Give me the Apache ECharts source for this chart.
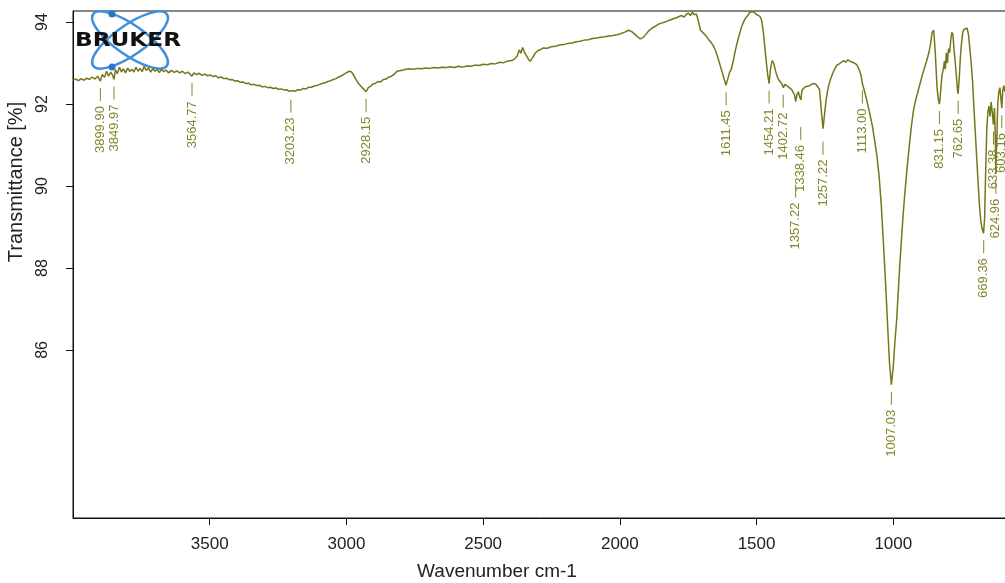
<!DOCTYPE html>
<html>
<head>
<meta charset="utf-8">
<script src="https://cdn.jsdelivr.net/npm/echarts@6/dist/echarts.min.js"></script>
<style>
html,body{margin:0;padding:0;background:#fff;}
#chart{width:1005px;height:583px;}
</style>
</head>
<body>
<div id="chart"></div>
<script>
// ---------------- DATA ----------------
var wavenumbers = [
4000,3990,3980,3970,3960,3950,3940,3930,3920,3910,3900,3893,3885,3877,3870,3862,3855,3850,3845,3838,
3830,3823,3816,3808,3800,3792,3785,3777,3770,3762,3755,3747,3740,3732,3724,3716,3708,3700,3692,3684,
3676,3668,3660,3650,3640,3630,3620,3610,3600,3590,3580,3572,3565,3558,3548,3538,3528,3518,3508,3498,
3488,3478,3468,3458,3448,3438,3428,3418,3408,3398,3388,3378,3368,3358,3348,3338,3328,3318,3308,3298,
3288,3278,3268,3258,3248,3238,3228,3218,3210,3203,3196,3188,3178,3168,3158,3148,3138,3128,3118,3108,
3098,3088,3078,3068,3058,3048,3038,3028,3018,3008,2998,2990,2982,2975,2967,2958,2948,2938,2928,2920,
2912,2904,2895,2885,2875,2865,2855,2845,2835,2825,2815,2800,2785,2770,2755,2740,2725,2710,2695,2680,
2665,2650,2635,2620,2605,2590,2575,2560,2545,2530,2515,2500,2485,2470,2455,2440,2425,2410,2395,2385,
2375,2368,2362,2356,2350,2342,2335,2328,2320,2310,2300,2290,2280,2265,2250,2235,2220,2205,2190,2175,
2160,2145,2130,2115,2100,2085,2070,2055,2040,2025,2010,1995,1980,1968,1955,1945,1935,1925,1915,1905,
1895,1885,1875,1865,1855,1845,1835,1825,1815,1805,1795,1785,1775,1765,1758,1750,1742,1735,1728,1720,
1712,1705,1698,1690,1682,1674,1666,1658,1650,1642,1634,1626,1618,1612,1605,1598,1592,1585,1578,1570,
1562,1555,1548,1540,1532,1525,1518,1510,1502,1495,1488,1482,1476,1470,1464,1459,1454,1449,1443,1437,
1432,1426,1420,1414,1408,1402,1396,1390,1384,1378,1372,1366,1361,1357,1352,1347,1343,1338,1334,1328,
1322,1315,1308,1300,1292,1284,1276,1270,1264,1257,1251,1245,1238,1230,1222,1214,1206,1198,1190,1182,
1174,1166,1158,1150,1142,1134,1126,1118,1113,1108,1100,1092,1084,1076,1068,1060,1052,1044,1036,1028,
1020,1014,1007,1000,994,988,982,976,970,964,958,950,942,934,926,918,910,902,894,886,
878,870,864,858,852,846,840,835,831,827,822,817,813,810,806,802,798,794,790,786,
782,778,774,770,766,763,759,755,751,746,742,736,730,725,720,715,710,705,700,695,
690,685,680,675,670,666,662,658,654,650,646,642,638,634,630,627,625,622,618,614,
610,606,603,600,596,592,588,584,580,575,570,560,550,540,530,520,510,500
];
var transmittance = [
92.58,92.61,92.57,92.62,92.58,92.63,92.60,92.66,92.61,92.68,92.56,92.72,92.65,92.80,92.68,92.78,92.70,92.60,92.84,92.74,
92.90,92.78,92.86,92.76,92.88,92.79,92.85,92.78,92.90,92.80,92.87,92.79,92.92,92.82,92.88,92.78,92.86,92.80,92.84,92.77,
92.85,92.79,92.83,92.76,92.82,92.77,92.81,92.76,92.80,92.74,92.78,92.73,92.68,92.76,92.72,92.75,92.70,92.73,92.69,92.71,
92.67,92.69,92.64,92.66,92.62,92.63,92.59,92.60,92.56,92.57,92.53,92.54,92.50,92.51,92.47,92.48,92.45,92.46,92.42,92.43,
92.40,92.41,92.38,92.39,92.36,92.37,92.34,92.35,92.31,92.28,92.33,92.31,92.35,92.34,92.38,92.37,92.41,92.41,92.44,92.45,
92.48,92.50,92.52,92.55,92.57,92.60,92.62,92.66,92.69,92.73,92.77,92.80,92.79,92.72,92.62,92.52,92.44,92.37,92.30,92.40,
92.43,92.49,92.50,92.55,92.54,92.60,92.61,92.66,92.68,92.73,92.80,92.82,92.84,92.86,92.85,92.87,92.86,92.88,92.87,92.89,
92.88,92.90,92.89,92.91,92.89,92.92,92.90,92.93,92.92,92.95,92.94,92.97,92.96,92.99,92.98,93.02,93.01,93.05,93.06,93.10,
93.18,93.32,93.24,93.38,93.28,93.18,93.10,93.04,93.12,93.24,93.30,93.33,93.37,93.36,93.40,93.41,93.44,93.45,93.48,93.49,
93.52,93.53,93.56,93.57,93.60,93.61,93.63,93.64,93.66,93.67,93.69,93.72,93.76,93.80,93.76,93.70,93.64,93.59,93.62,93.70,
93.78,93.84,93.88,93.92,93.96,93.98,94.00,94.03,94.05,94.08,94.10,94.13,94.16,94.12,94.18,94.22,94.16,94.24,94.18,94.20,
94.00,93.80,93.78,93.70,93.64,93.56,93.50,93.42,93.30,93.14,92.96,92.78,92.60,92.46,92.62,92.78,92.86,93.06,93.30,93.52,
93.72,93.88,94.00,94.10,94.16,94.24,94.20,94.25,94.19,94.22,94.14,94.06,93.80,93.40,93.00,92.70,92.50,92.86,93.06,93.00,
92.84,92.70,92.60,92.56,92.50,92.40,92.48,92.44,92.42,92.46,92.36,92.38,92.22,92.06,92.24,92.30,92.18,92.10,92.34,92.38,
92.42,92.46,92.44,92.48,92.50,92.49,92.42,92.36,91.90,91.40,91.78,92.14,92.40,92.60,92.74,92.86,92.95,92.98,93.02,93.06,
93.02,93.08,93.04,93.02,93.00,92.96,92.86,92.70,92.50,92.38,92.18,91.95,91.70,91.45,91.10,90.75,90.25,89.55,88.60,87.60,
86.50,85.70,85.15,85.60,86.20,86.70,87.40,88.10,88.70,89.30,89.80,90.40,90.95,91.45,91.85,92.10,92.30,92.50,92.70,92.88,
93.05,93.25,93.45,93.75,93.80,93.20,92.40,92.10,92.00,92.30,92.70,92.85,93.05,92.85,93.25,93.00,93.35,93.25,93.55,93.75,
93.70,93.35,93.05,92.75,92.40,92.25,92.60,93.10,93.45,93.75,93.82,93.86,93.85,93.70,93.35,93.00,92.55,91.90,91.30,90.70,
90.10,89.55,89.15,88.95,88.85,89.20,90.40,91.40,91.80,91.95,91.70,92.05,91.80,91.50,91.90,91.20,90.30,91.00,92.00,92.30,
92.40,92.10,91.90,92.30,92.45,92.30,92.50,92.20,92.35,92.15,92.30,92.20,92.25,92.10,92.20,92.15,92.20,92.10
];
var peakWavenumbers = [3899.90,3849.97,3564.77,3203.23,2928.15,1611.45,1454.21,1402.72,1357.22,1338.46,1257.22,1113.00,1007.03,831.15,762.65,669.36,633.38,624.96,603.16];
var peakTransmittance = [92.56,92.60,92.68,92.28,92.30,92.46,92.50,92.40,92.06,92.10,91.40,92.50,85.15,92.00,92.25,88.85,91.50,90.30,91.90];
var xTickValues = [3500,3000,2500,2000,1500,1000];
var yTickValues = [86,88,90,92,94];

// ---------------- STYLE ----------------
var lineColor = '#76761c';
var labelColor = '#85852a';
var FONT = 'Liberation Sans';
// extra downward displacement (px) of labels that the instrument software moved to avoid overlap
var labelDrop = {'1357.22': 76, '1338.46': 20, '1257.22': 6};

var spectrum = wavenumbers.map(function (w, i) { return [w, transmittance[i]]; });
var peaks = peakWavenumbers.map(function (w, i) { return [w, peakTransmittance[i]]; });

var chart = echarts.init(document.getElementById('chart'), null, {renderer: 'canvas'});
chart.setOption({
  animation: false,
  backgroundColor: '#fff',
  grid: {left: 73, top: 11, right: -25, bottom: 65, show: true, borderColor: '#111', borderWidth: 1,
         containLabel: false, outerBoundsMode: 'none'},
  xAxis: {
    type: 'value', inverse: true, min: 500, max: 4000,
    axisLine: {show: true, onZero: false, lineStyle: {color: '#111', width: 1}},
    axisTick: {show: true, customValues: xTickValues, length: 7, lineStyle: {color: '#111'}},
    axisLabel: {customValues: xTickValues, margin: 18, fontSize: 17, color: '#222', fontFamily: FONT,
                formatter: function (v) { return String(v); }},
    splitLine: {show: false}
  },
  yAxis: {
    type: 'value', min: 81.9, max: 94.27,
    axisLine: {show: true, onZero: false, lineStyle: {color: '#111', width: 1}},
    axisTick: {show: true, customValues: yTickValues, length: 7, lineStyle: {color: '#111'}},
    axisLabel: {customValues: yTickValues, rotate: 90, margin: 22, fontSize: 16, color: '#222', fontFamily: FONT,
                formatter: function (v) { return String(v); }},
    splitLine: {show: false}
  },
  graphic: [
    {type: 'text', x: 497, y: 572, style: {text: 'Wavenumber cm-1', font: '19px "Liberation Sans"', fill: '#222', align: 'center', verticalAlign: 'middle'}},
    {type: 'text', x: 16, y: 182, rotation: Math.PI / 2, style: {text: 'Transmittance [%]', font: '20px "Liberation Sans"', fill: '#222', align: 'center', verticalAlign: 'middle'}},
    {type: 'group', z: 100, children: [
      {type: 'ellipse', x: 130, y: 40, rotation: 0.61, shape: {cx: 0, cy: 0, rx: 45, ry: 15}, style: {fill: 'none', stroke: '#3f8fdc', lineWidth: 2.5}},
      {type: 'ellipse', x: 130, y: 40, rotation: -0.61, shape: {cx: 0, cy: 0, rx: 45, ry: 15}, style: {fill: 'none', stroke: '#3f8fdc', lineWidth: 2.5}},
      {type: 'circle', shape: {cx: 112, cy: 14, r: 3.5}, style: {fill: '#2a78c8'}},
      {type: 'circle', shape: {cx: 112, cy: 67, r: 3.5}, style: {fill: '#2a78c8'}},
      {type: 'text', x: 75, y: 41, scaleX: 1.22, style: {text: 'BRUKER', font: 'bold 19px "DejaVu Sans"', fill: '#111', align: 'left', verticalAlign: 'middle'}}
    ]}
  ],
  series: [
    {
      type: 'line', data: spectrum, showSymbol: false, symbol: 'none', z: 3,
      lineStyle: {color: lineColor, width: 1.5}
    },
    {
      type: 'custom', data: peaks, z: 4, clip: false,
      renderItem: function (params, api) {
        var w = api.value(0), t = api.value(1);
        var p = api.coord([w, t]);
        var txt = w.toFixed(2);
        var y0 = p[1] + 7 + (labelDrop[txt] || 0);
        return {type: 'group', children: [
          {type: 'line', shape: {x1: p[0], y1: y0, x2: p[0], y2: y0 + 13}, style: {stroke: labelColor, lineWidth: 1}},
          {type: 'text', x: p[0], y: y0 + 18, rotation: Math.PI / 2,
           style: {text: txt, fill: labelColor, font: '13px "Liberation Sans"', align: 'right', verticalAlign: 'middle'}}
        ]};
      }
    }
  ]
});
</script>
</body>
</html>
